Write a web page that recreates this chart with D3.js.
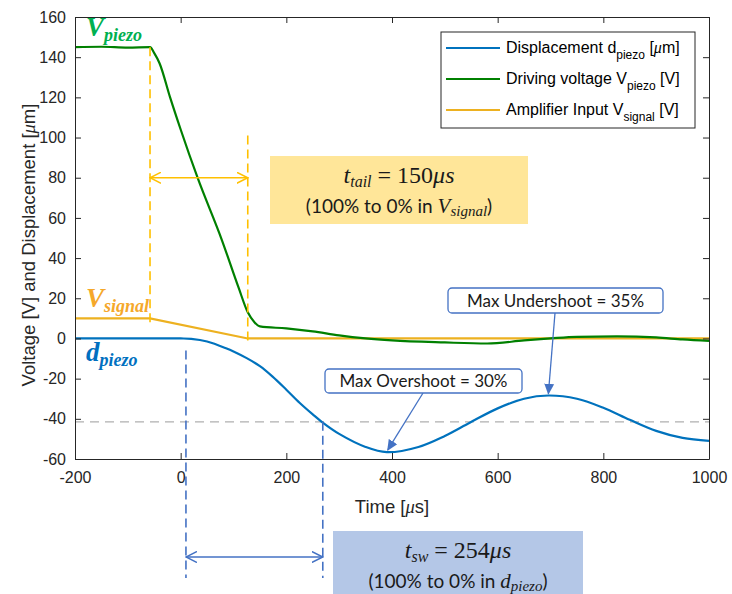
<!DOCTYPE html>
<html>
<head>
<meta charset="utf-8">
<script src="https://cdn.jsdelivr.net/npm/d3@7"></script>
<style>
  body { margin: 0; background: #fff; }
  svg { display: block; font-family: "Liberation Sans", Arial, sans-serif; }
</style>
</head>
<body>
<svg id="chart" width="732" height="594"></svg>
<script>
// time axis values (µs) and series
const xTicks = [-200, 0, 200, 400, 600, 800, 1000];
const yTicks = [-60, -40, -20, 0, 20, 40, 60, 80, 100, 120, 140, 160];

const tBlue = [-200, -100, 0, 20, 50, 87, 100, 125, 150, 174, 200, 225, 250, 267, 300, 350, 390, 450, 500, 548, 600, 650, 696, 750, 800, 850, 900, 950, 1000];
const dPiezo = [0, 0, 0, -0.2, -1.5, -5, -6.5, -9.8, -13.8, -19, -25.5, -32, -37.8, -41.5, -47.5, -54, -56.6, -54, -48.5, -41.8, -34.8, -30, -28.4, -30, -34.5, -40.5, -46, -49.5, -51];

const tGreen = [-200, -150, -100, -58, -50, -40, -20, 0, 32, 78, 110, 127, 140, 150, 200, 250, 300, 350, 400, 500, 580, 650, 700, 750, 826, 900, 950, 1000];
const vPiezo = [145, 145.2, 144.8, 145, 142, 137, 120, 104, 80, 49, 25, 13, 8, 6, 5, 3.5, 1.5, 0, -1, -2, -2.5, -1, 0, 0.8, 1, 0.5, -0.5, -1.2];

const tOrange = [-200, -58, 127, 1000];
const vSignal = [10, 10, 0, 0];

const overshootLevel = -41.5;

const width = 732, height = 594;
const margin = { left: 75, right: 23, top: 17, bottom: 135 };
const svg = d3.select('#chart');

const x = d3.scaleLinear().domain([-200, 1000]).range([margin.left, width - margin.right]);
const y = d3.scaleLinear().domain([-60, 160]).range([height - margin.bottom, margin.top]);

const axisColor = '#262626';
const blue = '#0072BD', green = '#008000', orange = '#EDB120';
const annBlue = '#4472C4', annOrange = '#FFC000';

// dashed reference at overshoot level
svg.append('line')
  .attr('x1', x(-200)).attr('x2', x(1000))
  .attr('y1', y(overshootLevel)).attr('y2', y(overshootLevel))
  .attr('stroke', '#b0b0b0').attr('stroke-width', 1.3).attr('stroke-dasharray', '9,6');

// series
const line = d3.line().x(d => x(d[0])).y(d => y(d[1]));
svg.append('path')
  .datum(d3.zip(tOrange, vSignal))
  .attr('fill', 'none').attr('stroke', orange).attr('stroke-width', 2.2)
  .attr('d', line);
svg.append('path')
  .datum(d3.zip(tGreen, vPiezo))
  .attr('fill', 'none').attr('stroke', green).attr('stroke-width', 2.2)
  .attr('d', line.curve(d3.curveMonotoneX));
svg.append('path')
  .datum(d3.zip(tBlue, dPiezo))
  .attr('fill', 'none').attr('stroke', blue).attr('stroke-width', 2.2)
  .attr('d', line.curve(d3.curveCatmullRom.alpha(0.5)));

// axes
const fmt = d => String(d);
const gx = svg.append('g').attr('transform', `translate(0,${y(-60)})`)
  .call(d3.axisBottom(x).tickValues(xTicks).tickFormat(fmt).tickSizeInner(-6).tickSizeOuter(0).tickPadding(13));
const gy = svg.append('g').attr('transform', `translate(${x(-200)},0)`)
  .call(d3.axisLeft(y).tickValues(yTicks).tickFormat(fmt).tickSizeInner(-6).tickSizeOuter(0).tickPadding(9));
const gxt = svg.append('g').attr('transform', `translate(0,${y(160)})`)
  .call(d3.axisTop(x).tickValues(xTicks).tickSizeInner(-6).tickSizeOuter(0).tickFormat(''));
const gyr = svg.append('g').attr('transform', `translate(${x(1000)},0)`)
  .call(d3.axisRight(y).tickValues(yTicks).tickSizeInner(-6).tickSizeOuter(0).tickFormat(''));
[gx, gy, gxt, gyr].forEach(g => {
  g.selectAll('path,line').attr('stroke', axisColor);
  g.selectAll('text').attr('fill', axisColor).style('font-size', '16px')
    .style('font-family', '"Liberation Sans", Arial, sans-serif');
});

// axis labels
svg.append('text')
  .attr('x', x(400)).attr('y', 513).attr('text-anchor', 'middle')
  .attr('fill', axisColor).style('font-size', '18.5px')
  .call(t => {
    t.append('tspan').text('Time [');
    t.append('tspan').style('font-style', 'italic').style('font-family', '"Liberation Serif", serif').text('\u03BC');
    t.append('tspan').text('s]');
  });
svg.append('text')
  .attr('transform', `translate(35,245) rotate(-90)`)
  .attr('text-anchor', 'middle')
  .attr('fill', axisColor).style('font-size', '18.5px')
  .call(t => {
    t.append('tspan').text('Voltage [V] and Displacement [');
    t.append('tspan').style('font-style', 'italic').style('font-family', '"Liberation Serif", serif').text('\u03BC');
    t.append('tspan').text('m]');
  });

// legend
const legend = svg.append('g').attr('transform', 'translate(441,32)');
legend.append('rect').attr('width', 254).attr('height', 96)
  .attr('fill', '#fff').attr('stroke', '#262626').attr('stroke-width', 1);
const legendItems = [
  { color: blue, parts: [['Displacement d', 0], ['piezo', 1], [' [', 3], ['\u03BC', 2], ['m]', 0]] },
  { color: green, parts: [['Driving voltage V', 0], ['piezo', 1], [' [V]', 3]] },
  { color: orange, parts: [['Amplifier Input V', 0], ['signal', 1], [' [V]', 3]] }
];
legendItems.forEach((it, i) => {
  const yy = 16 + i * 31;
  legend.append('line').attr('x1', 5).attr('x2', 59).attr('y1', yy).attr('y2', yy)
    .attr('stroke', it.color).attr('stroke-width', 2.2);
  const t = legend.append('text').attr('x', 65).attr('y', yy + 5)
    .attr('fill', '#000').style('font-size', '16px');
  it.parts.forEach(p => {
    const s = t.append('tspan').text(p[0]);
    if (p[1] === 1) s.attr('dy', 6).style('font-size', '12px');
    if (p[1] === 3) s.attr('dy', -6);
    if (p[1] === 2) s.style('font-style', 'italic').style('font-family', '"Liberation Serif", serif');
  });
});

// curve labels
function curveLabel(tx, ty, main, sub, color) {
  const t = svg.append('text').attr('x', tx).attr('y', ty)
    .attr('fill', color).style('font-family', '"Liberation Serif", serif')
    .style('font-style', 'italic').style('font-weight', 'bold');
  t.append('tspan').style('font-size', '27px').text(main);
  t.append('tspan').attr('dy', 5).style('font-size', '18px').text(sub);
}
curveLabel(86, 36, 'V', 'piezo', '#00B050');
curveLabel(86, 307, 'V', 'signal', '#F5A82A');
curveLabel(86, 361, 'd', 'piezo', '#0070C0');

// arrow markers
const defs = svg.append('defs');
function chevron(id, color) {
  defs.append('marker').attr('id', id).attr('viewBox', '0 -6 12 12')
    .attr('refX', 11).attr('refY', 0).attr('markerWidth', 12).attr('markerHeight', 12)
    .attr('markerUnits', 'userSpaceOnUse').attr('orient', 'auto-start-reverse')
    .append('path').attr('d', 'M0,-5.5L11,0L0,5.5').attr('fill', 'none')
    .attr('stroke', color).attr('stroke-width', 1.5);
}
chevron('chevO', annOrange);
chevron('chevB', annBlue);
defs.append('marker').attr('id', 'tri').attr('viewBox', '0 -5 10 10')
  .attr('refX', 9).attr('refY', 0).attr('markerWidth', 11).attr('markerHeight', 11)
  .attr('markerUnits', 'userSpaceOnUse').attr('orient', 'auto')
  .append('path').attr('d', 'M0,-4.5L10,0L0,4.5Z').attr('fill', annBlue);

// t_tail annotation
const tailStart = -58, tailEnd = 127;
svg.append('line').attr('x1', x(tailStart)).attr('x2', x(tailStart))
  .attr('y1', y(145)).attr('y2', y(6))
  .attr('stroke', annOrange).attr('stroke-width', 1.6).attr('stroke-dasharray', '9,5');
svg.append('line').attr('x1', x(tailEnd)).attr('x2', x(tailEnd))
  .attr('y1', y(101)).attr('y2', y(-2))
  .attr('stroke', annOrange).attr('stroke-width', 1.6).attr('stroke-dasharray', '9,5');
svg.append('line').attr('x1', x(tailStart)).attr('x2', x(tailEnd))
  .attr('y1', y(80)).attr('y2', y(80))
  .attr('stroke', annOrange).attr('stroke-width', 1.6)
  .attr('marker-start', 'url(#chevO)').attr('marker-end', 'url(#chevO)');

// t_sw annotation
const swStart = 10, swEnd = 269;
svg.append('line').attr('x1', x(swStart)).attr('x2', x(swStart))
  .attr('y1', y(-6)).attr('y2', 578)
  .attr('stroke', annBlue).attr('stroke-width', 1.6).attr('stroke-dasharray', '9,5');
svg.append('line').attr('x1', x(swEnd)).attr('x2', x(swEnd))
  .attr('y1', y(overshootLevel)).attr('y2', 578)
  .attr('stroke', annBlue).attr('stroke-width', 1.6).attr('stroke-dasharray', '9,5');
svg.append('line').attr('x1', x(swStart)).attr('x2', x(swEnd))
  .attr('y1', 557).attr('y2', 557)
  .attr('stroke', annBlue).attr('stroke-width', 1.6)
  .attr('marker-start', 'url(#chevB)').attr('marker-end', 'url(#chevB)');

// text boxes
function mathBox(bx, by, bw, bh, fill, sym, sub, val, line2, sym2, sub2) {
  const g = svg.append('g');
  g.append('rect').attr('x', bx).attr('y', by).attr('width', bw).attr('height', bh).attr('fill', fill);
  const cx = bx + bw / 2;
  const t1 = g.append('text').attr('x', cx).attr('y', by + 27).attr('text-anchor', 'middle')
    .attr('fill', '#1a1a1a').style('font-family', '"Liberation Serif", serif').style('font-size', '24px');
  t1.append('tspan').style('font-style', 'italic').text(sym);
  t1.append('tspan').style('font-style', 'italic').style('font-size', '16px').attr('dy', 4).text(sub);
  t1.append('tspan').attr('dy', -4).text(' = ' + val);
  t1.append('tspan').style('font-style', 'italic').text('\u03BCs');
  const t2 = g.append('text').attr('x', cx).attr('y', by + 57).attr('text-anchor', 'middle')
    .attr('fill', '#1a1a1a').style('font-family', 'Lato, sans-serif').style('font-size', '19px');
  t2.append('tspan').text(line2);
  t2.append('tspan').style('font-style', 'italic').style('font-family', '"Liberation Serif", serif').style('font-size', '21px').text(sym2);
  t2.append('tspan').style('font-style', 'italic').style('font-family', '"Liberation Serif", serif').style('font-size', '15px').attr('dy', 3).text(sub2);
  t2.append('tspan').attr('dy', -3).text(')');
}
mathBox(270, 156, 258, 68, '#FFE699', 't', 'tail', '150', '(100% to 0% in ', 'V', 'signal');
mathBox(333, 531, 250, 68, '#B4C7E7', 't', 'sw', '254', '(100% to 0% in ', 'd', 'piezo');

// callouts
function callout(bx, by, bw, bh, label, ax, ay, tipT, tipV) {
  svg.append('line').attr('x1', ax).attr('y1', ay).attr('x2', x(tipT)).attr('y2', y(tipV))
    .attr('stroke', annBlue).attr('stroke-width', 1.3).attr('marker-end', 'url(#tri)');
  svg.append('rect').attr('x', bx).attr('y', by).attr('width', bw).attr('height', bh)
    .attr('rx', 4).attr('fill', '#fff').attr('stroke', annBlue).attr('stroke-width', 1.3);
  svg.append('text').attr('x', bx + bw / 2).attr('y', by + bh / 2 + 6).attr('text-anchor', 'middle')
    .attr('fill', '#1a1a1a').style('font-family', 'Lato, sans-serif').style('font-size', '17px').text(label);
}
callout(448, 288, 215, 25, 'Max Undershoot = 35%', 555, 313, 696, -27.5);
callout(325, 369, 197, 24, 'Max Overshoot = 30%', 423, 393, 392, -55.5);
</script>
</body>
</html>
